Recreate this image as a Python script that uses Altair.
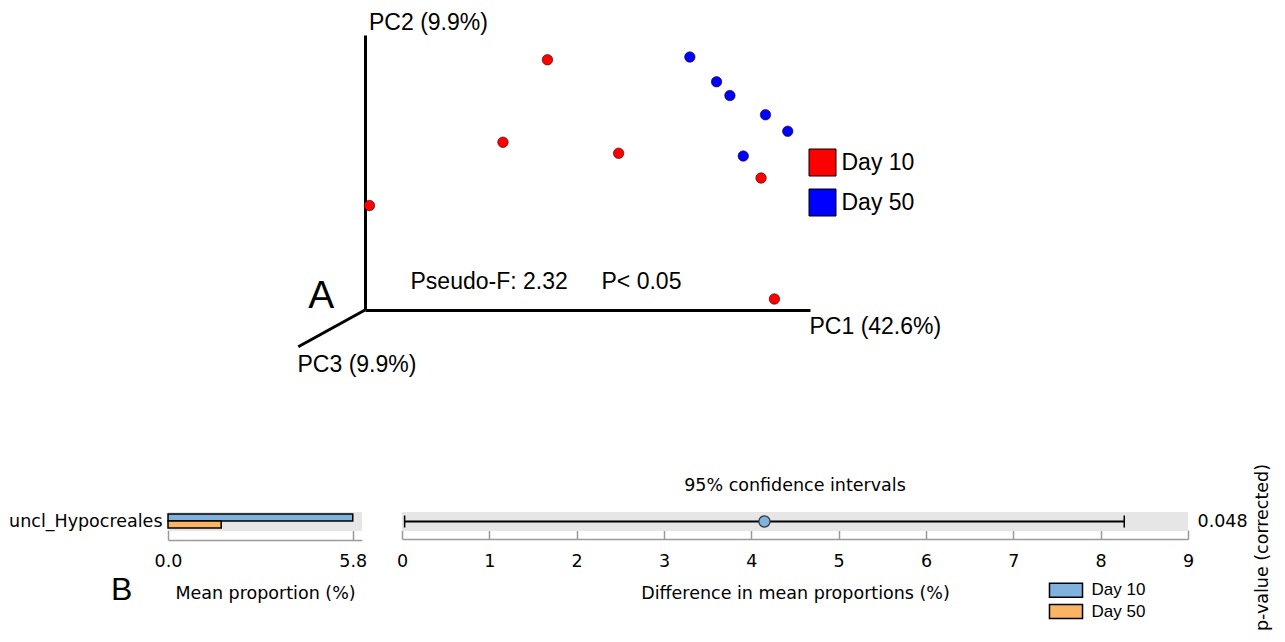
import altair as alt
import pandas as pd

# ---------------- Panel A: PCoA (sample positions read along the drawn PC1 / PC2 axes, axis-relative units)
pca_group = ["Day 10"] * 6 + ["Day 50"] * 6
pca_pc1 = [0.41, 0.31, 0.57, 0.01, 0.89, 0.92, 0.73, 0.79, 0.82, 0.90, 0.95, 0.85]
pca_pc2 = [0.91, 0.61, 0.57, 0.38, 0.48, 0.04, 0.92, 0.83, 0.78, 0.71, 0.65, 0.56]
group_names = ["Day 10", "Day 50"]
pca_colors = ["#ff0000", "#0000ff"]
pc_titles = ["PC1 (42.6%)", "PC2 (9.9%)", "PC3 (9.9%)"]
stats_text = ["Pseudo-F: 2.32", "P< 0.05"]
panel_letters = ["A", "B"]

# ---------------- Panel B: extended error bar plot
feature = ["uncl_Hypocreales"]
mean_prop = [5.80, 1.67]          # Day 10, Day 50 (%)
bar_colors = ["#7fb2dc", "#fbb463"]
diff_mean = [4.15]
ci_low = [0.03]
ci_high = [8.27]
p_value = ["0.048"]
prop_ticks = [0.0, 5.8]
prop_axis_max = 6.09
diff_ticks = [0, 1, 2, 3, 4, 5, 6, 7, 8, 9]
diff_axis_max = 9
ci_title = "95% confidence intervals"

pca_df = pd.DataFrame({"group": pca_group, "PC1": pca_pc1, "PC2": pca_pc2})
feat_df = pd.DataFrame({"feature": feature, "pval": p_value})
bar_df = pd.DataFrame({"feature": feature * 2, "group": group_names, "mean": mean_prop})
ci_df = pd.DataFrame({"feature": feature, "diff": diff_mean, "low": ci_low, "high": ci_high, "pval": p_value})
cap_df = pd.DataFrame({"feature": feature * 2, "end": [ci_low[0], ci_high[0]]})
one = pd.DataFrame({"k": [0]})

W, H = 1269, 626
SANS = "Liberation Sans"
MPL = "DejaVu Sans"
FS = 17.5


def pca_x():
    return alt.Scale(domain=[0, 1], range=[357, 802], nice=False, zero=False)


def pca_y():
    return alt.Scale(domain=[0, 1], range=[302, 27], nice=False, zero=False)


def prop_x():
    return alt.Scale(domain=[0, prop_axis_max], range=[160, 354], nice=False)


def diff_x():
    return alt.Scale(domain=[0, diff_axis_max], range=[394, 1180], nice=False)


def row_y():
    return alt.Scale(domain=feature, range=[504, 523], paddingInner=0, paddingOuter=0)


# ---- Panel A
points = alt.Chart(pca_df).mark_circle(size=110, opacity=1, stroke="#2a0000", strokeWidth=0.6).encode(
    x=alt.X("PC1:Q", scale=pca_x(),
            axis=alt.Axis(orient="bottom", offset=-324, grid=False, ticks=False, labels=False,
                          domain=True, domainColor="black", domainWidth=3,
                          title=pc_titles[0], titleFont=SANS, titleFontSize=23, titleFontWeight="normal",
                          titleColor="black", titleX=801, titleY=23.3, titleAlign="left",
                          titleBaseline="alphabetic", titleAngle=0)),
    y=alt.Y("PC2:Q", scale=pca_y(),
            axis=alt.Axis(orient="left", offset=-357, grid=False, ticks=False, labels=False,
                          domain=True, domainColor="black", domainWidth=3,
                          title=pc_titles[1], titleFont=SANS, titleFontSize=23, titleFontWeight="normal",
                          titleColor="black", titleX=3.5, titleY=21.3, titleAlign="left",
                          titleBaseline="alphabetic", titleAngle=0)),
    color=alt.Color("group:N", scale=alt.Scale(domain=group_names, range=pca_colors),
                    legend=alt.Legend(orient="none", legendX=800.5, legendY=140.5, direction="vertical",
                                      title=None, symbolType="square", symbolSize=729,
                                      symbolStrokeColor="black", symbolStrokeWidth=1, symbolOpacity=1,
                                      labelFont=SANS, labelFontSize=23, labelColor="black",
                                      labelOffset=5, rowPadding=8, padding=0)),
)

pc3_axis = alt.Chart(one).mark_rule(color="black", strokeWidth=3).encode(
    x=alt.value(357), y=alt.value(302), x2=alt.value(290.3), y2=alt.value(338.7)
)


def label(text, x, y, font, size, align="left"):
    return alt.Chart(one).mark_text(text=text, font=font, fontSize=size, align=align,
                                    baseline="alphabetic", color="black").encode(
        x=alt.value(x), y=alt.value(y))


texts = [
    label(pc_titles[2], 289.5, 363.7, SANS, 23),
    label(stats_text[0], 402.5, 281.3, SANS, 23),
    label(stats_text[1], 593.5, 281.3, SANS, 23),
    label(panel_letters[0], 300.3, 300.3, SANS, 39),
    label(panel_letters[1], 103, 592, SANS, 32),
    label(ci_title, 787, 482.7, MPL, FS, align="center"),
]

# ---- Panel B: mean proportion bars
bar_bg = alt.Chart(feat_df).mark_rect(color="#e6e6e6").encode(
    x=alt.XDatum(0, type="quantitative", scale=prop_x(),
                 axis=alt.Axis(orient="bottom", offset=-94, grid=False, ticks=False, labels=False,
                               domain=True, domainColor="#9a9a9a", domainWidth=1.5,
                               title="Mean proportion (%)", titleFont=MPL, titleFontSize=FS,
                               titleFontWeight="normal", titleColor="black", titleY=58.3,
                               titleBaseline="alphabetic")),
    x2=alt.X2Datum(prop_axis_max),
    y=alt.Y("feature:N", scale=row_y(),
            axis=alt.Axis(orient="left", offset=-159, domain=False, ticks=False, grid=False,
                          labelPadding=5, labelFont=MPL, labelFontSize=FS, labelColor="black",
                          labelLimit=400, title=None)),
)

bars = alt.Chart(bar_df).mark_bar(stroke="black", strokeWidth=1.5, opacity=1).encode(
    x=alt.X("mean:Q", scale=prop_x(),
            axis=alt.Axis(orient="bottom", offset=-104, grid=False, domain=False, ticks=True,
                          tickSize=10, tickColor="#9a9a9a", tickWidth=1.5, values=prop_ticks,
                          format=".1f", labelFont=MPL, labelFontSize=FS, labelColor="black",
                          labelPadding=12, labelFlush=False, title=None)),
    y=alt.Y("group:N", scale=alt.Scale(domain=group_names, range=[506, 520], paddingInner=0, paddingOuter=0),
            axis=None),
    color=alt.Color("group:N", scale=alt.Scale(domain=group_names, range=bar_colors),
                    legend=alt.Legend(orient="none", legendX=1049.5, legendY=573.7, direction="vertical",
                                      title=None, symbolType="M-2.36,-1H2.36V1H-2.36Z", symbolSize=196,
                                      symbolStrokeColor="black", symbolStrokeWidth=1.5, symbolOpacity=1,
                                      labelFont=SANS, labelFontSize=17, labelColor="black",
                                      labelOffset=17, rowPadding=0.4, padding=0)),
)

# ---- Panel B: difference with 95% CI
ci_bg = alt.Chart(feat_df).mark_rect(color="#e6e6e6").encode(
    x=alt.XDatum(0, type="quantitative", scale=diff_x(),
                 axis=alt.Axis(orient="bottom", offset=-95, grid=False, ticks=False, labels=False,
                               domain=True, domainColor="#9a9a9a", domainWidth=1.5,
                               title="Difference in mean proportions (%)", titleFont=MPL, titleFontSize=FS,
                               titleFontWeight="normal", titleColor="black", titleY=59.3,
                               titleBaseline="alphabetic")),
    x2=alt.X2Datum(diff_axis_max),
    y=alt.Y("feature:N", scale=row_y(), axis=None),
)

ci_rule = alt.Chart(ci_df).mark_rule(color="black", strokeWidth=2).encode(
    x=alt.X("low:Q", scale=diff_x(),
            axis=alt.Axis(orient="bottom", offset=-104, grid=False, domain=False, ticks=True,
                          tickSize=9, tickColor="#9a9a9a", tickWidth=1.5, values=diff_ticks,
                          format="d", labelFont=MPL, labelFontSize=FS, labelColor="black",
                          labelPadding=13, labelFlush=False, title=None)),
    x2="high:Q",
    y=alt.Y("feature:N", scale=row_y(), axis=None),
)

ci_caps = alt.Chart(cap_df).mark_tick(color="black", thickness=1.5, size=12, opacity=1).encode(
    x=alt.X("end:Q", scale=diff_x(), axis=None),
    y=alt.Y("feature:N", scale=row_y(), axis=None),
)

ci_dot = alt.Chart(ci_df).mark_circle(size=125, opacity=1, color=bar_colors[0], stroke="#333333",
                                      strokeWidth=1.2).encode(
    x=alt.X("diff:Q", scale=diff_x(), axis=None),
    y=alt.Y("pval:N", scale=alt.Scale(domain=p_value, range=[504, 523], paddingInner=0, paddingOuter=0),
            axis=alt.Axis(orient="right", offset=-85, domain=False, ticks=False, grid=False,
                          labelPadding=5, labelFont=MPL, labelFontSize=FS, labelColor="black",
                          title="p-value (corrected)", titleFont=MPL, titleFontSize=FS,
                          titleFontWeight="normal", titleColor="black", titleAngle=270,
                          titleX=75.5, titleY=539, titleAlign="center", titleBaseline="alphabetic")),
)

chart = alt.layer(
    bar_bg, ci_bg, bars, ci_rule, ci_caps, ci_dot, points, pc3_axis, *texts
).resolve_scale(
    x="independent", y="independent", color="independent"
).properties(
    width=W, height=H, autosize=alt.AutoSizeParams(type="none"), padding=0, background="white"
).configure_view(strokeWidth=0)

chart.save("out.html", embed_options={"renderer": "svg", "actions": False})
